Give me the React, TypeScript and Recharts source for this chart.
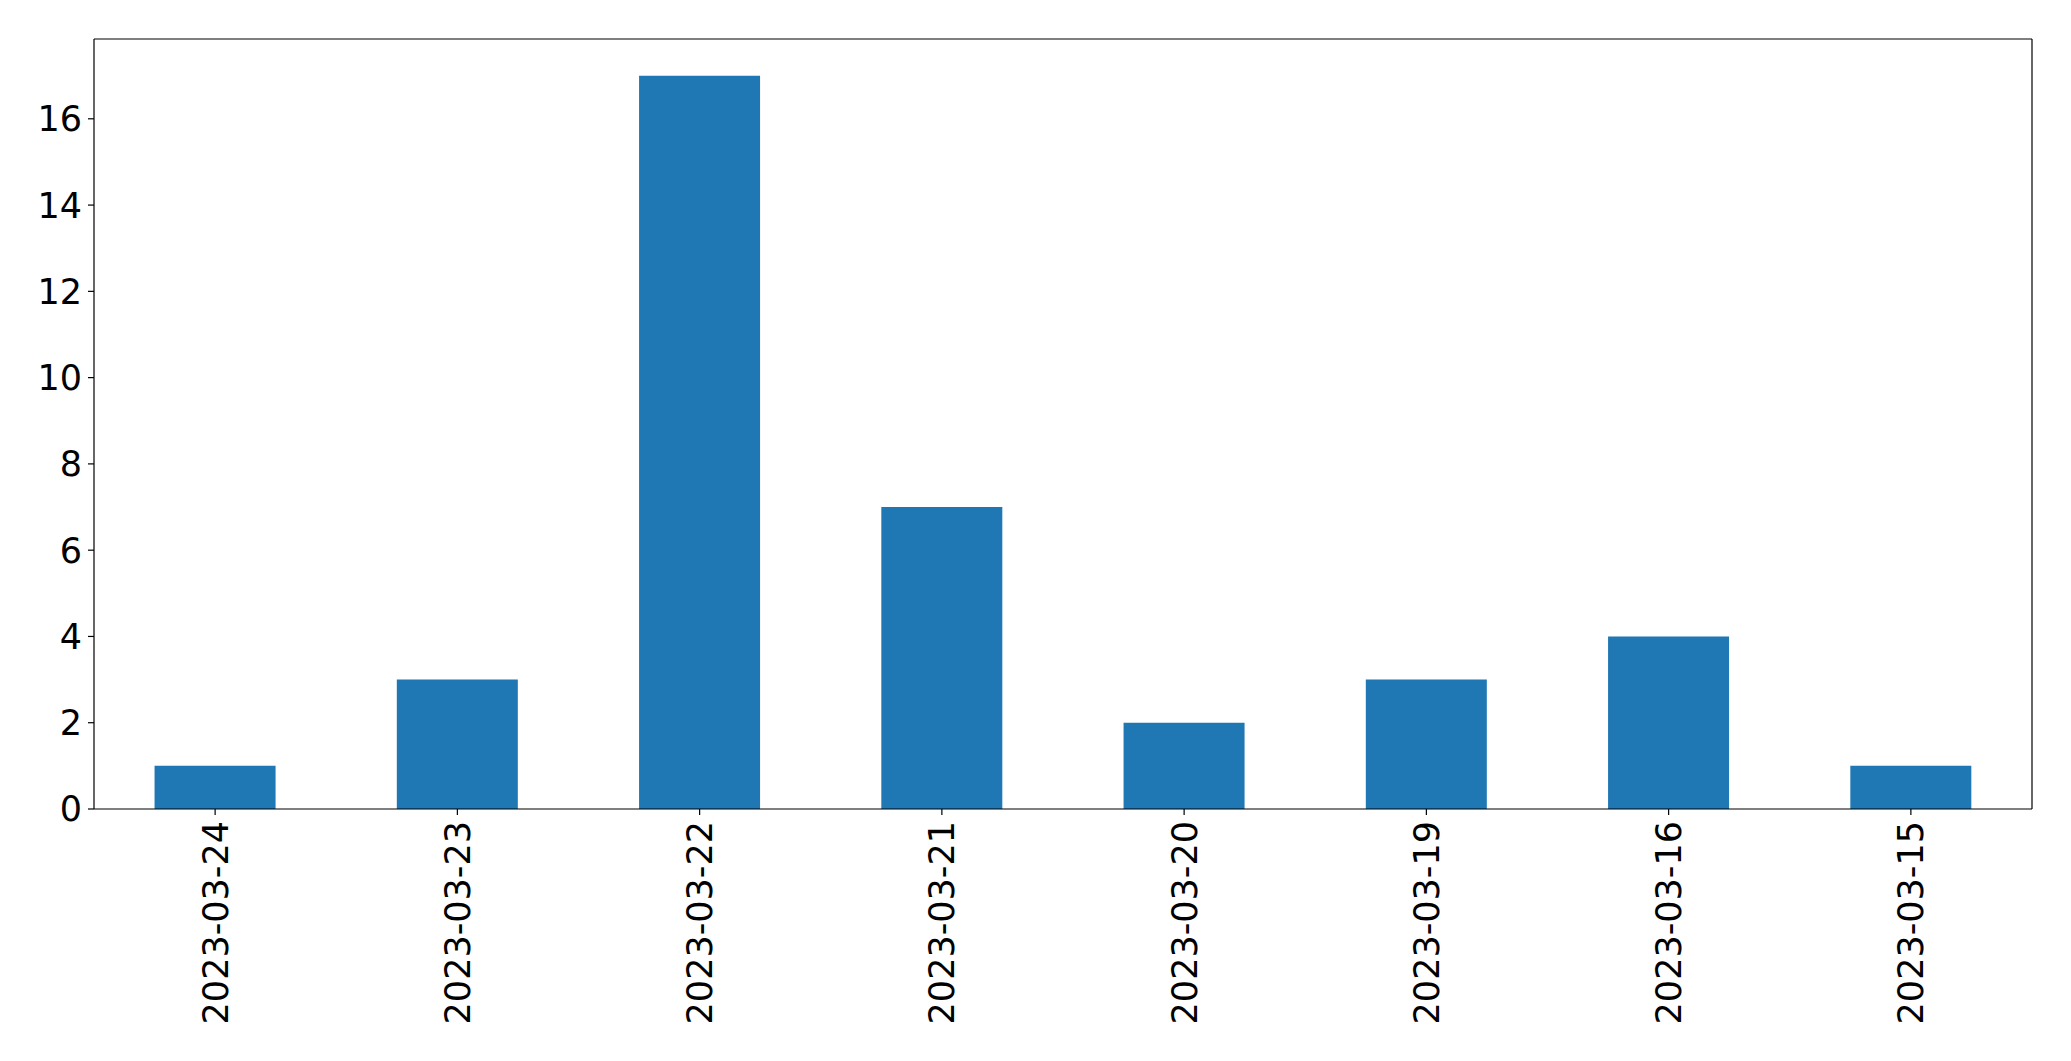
import React from 'react';
import { Bar, BarChart, ReferenceLine, XAxis, YAxis } from 'recharts';

const dates = [
  '2023-03-24',
  '2023-03-23',
  '2023-03-22',
  '2023-03-21',
  '2023-03-20',
  '2023-03-19',
  '2023-03-16',
  '2023-03-15',
];
const counts = [1, 3, 17, 7, 2, 3, 4, 1];
const yTicks = [0, 2, 4, 6, 8, 10, 12, 14, 16];
const yMax = 17.85;

const data = dates.map((d, i) => ({ date: d, count: counts[i] }));

const FONT = 'DejaVu Sans, sans-serif';

// rotated date labels, reading bottom to top like matplotlib rotation=90
const DateTick = (props: any) => {
  const { x, y, payload } = props;
  return (
    <g transform={`translate(${x},${y})`}>
      <text
        x={0}
        y={0}
        dy='0.36em'
        transform='rotate(-90)'
        textAnchor='end'
        fill='#000'
        fontSize={35}
        fontFamily={FONT}
      >
        {payload.value}
      </text>
    </g>
  );
};

const App: React.FC = () => {
  return (
    <div style={{ position: 'absolute', left: 0, top: 0, background: '#fff' }}>
      <BarChart
        width={2071}
        height={1061}
        data={data}
        barCategoryGap='25%'
        margin={{ top: 39, right: 39, left: 14, bottom: 12 }}
      >
        <XAxis
          dataKey='date'
          interval={0}
          height={240}
          tick={<DateTick />}
          tickSize={6}
          tickMargin={6}
          axisLine={{ stroke: '#000', strokeWidth: 1.2 }}
          tickLine={{ stroke: '#000', strokeWidth: 1.2 }}
        />
        <YAxis
          width={80}
          domain={[0, yMax]}
          ticks={yTicks}
          allowDataOverflow
          tickSize={6}
          tickMargin={6}
          tick={{ fill: '#000', fontSize: 35, fontFamily: FONT }}
          axisLine={{ stroke: '#000', strokeWidth: 1.2 }}
          tickLine={{ stroke: '#000', strokeWidth: 1.2 }}
        />
        <Bar dataKey='count' fill='#1f77b4' isAnimationActive={false} />
        {/* top and right spines */}
        <ReferenceLine y={yMax} stroke='#000' strokeWidth={1.2} />
        <ReferenceLine
          x={dates[dates.length - 1]}
          position='end'
          stroke='#000'
          strokeWidth={1.2}
        />
      </BarChart>
    </div>
  );
};

export default App;
